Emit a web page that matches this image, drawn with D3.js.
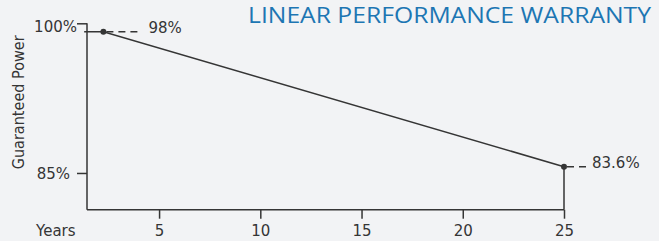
<!DOCTYPE html>
<html>
<head>
<meta charset="utf-8">
<script src="https://cdn.jsdelivr.net/npm/d3@7"></script>
<style>
  html, body { margin: 0; padding: 0; background: #f2f3f5; }
  svg { display: block; font-family: "DejaVu Sans", sans-serif; }
</style>
</head>
<body>
<svg id="chart" width="659" height="241"></svg>
<script>
// ---- data ----
const titleText = "LINEAR PERFORMANCE WARRANTY";
const yAxisTitle = "Guaranteed Power";
const xAxisTitle = "Years";
const years = [1.3, 2.25, 25];            // warranty line vertices
const power = [99.16, 99.16, 85.63];      // plotted level (%)
const markerIdx = [1, 2];                 // points with markers
const markerLabels = ["98%", "83.6%"];
const xTicks = [5, 10, 15, 20, 25];
const yTicks = [100, 85];
const yTickLabels = ["100%", "85%"];
const xDomain = [1.44, 25];
const yDomain = [81.32, 100];

// ---- layout ----
const ink = "#353535";
const smallFont = "\"DejaVu Sans\", sans-serif";
const svg = d3.select("#chart");

const x = d3.scaleLinear().domain(xDomain).range([87, 564]);
const y = d3.scaleLinear().domain(yDomain).range([209.7, 23.3]);

// title
svg.append("text")
  .attr("x", 651).attr("y", 23.3)
  .attr("text-anchor", "end")
  .attr("fill", "#1d76b3")
  .attr("font-family", "\"Open Sans\", sans-serif")
  .attr("font-size", 22)
  .attr("textLength", 403).attr("lengthAdjust", "spacingAndGlyphs")
  .text(titleText);

// x axis
const xAxis = d3.axisBottom(x).tickValues(xTicks).tickSize(9).tickPadding(6)
  .tickFormat(d3.format("d"));
const gx = svg.append("g").attr("transform", `translate(0,${y(yDomain[0])})`).call(xAxis);
gx.select(".domain").attr("d", `M${x(xDomain[0])},0H${x(xDomain[1])}`);

// y axis
const yAxis = d3.axisLeft(y).tickValues(yTicks).tickSize(10).tickPadding(0)
  .tickFormat((d, i) => yTickLabels[i]);
const gy = svg.append("g").attr("transform", `translate(${x(xDomain[0])},0)`).call(yAxis);
gy.select(".domain").attr("d", `M0,${y(yDomain[1])}V${y(yDomain[0])}`);

[gx, gy].forEach(g => {
  g.selectAll(".domain, .tick line").attr("stroke", ink).attr("stroke-width", 1.5);
  g.selectAll("text").attr("fill", ink).attr("font-size", 15)
    .attr("font-family", smallFont);
});
gx.selectAll(".tick text").attr("dy", null).attr("y", 0)
  .attr("transform", "translate(0,26)");
gy.selectAll(".tick text")
  .attr("x", (d, i) => i === 0 ? -10 : -17)
  .attr("dy", (d, i) => i === 0 ? "8.4" : "5.3");

// axis titles
svg.append("text")
  .attr("x", 36).attr("y", 235.7)
  .attr("fill", ink).attr("font-size", 15)
  .text(xAxisTitle);

svg.append("text")
  .attr("transform", `translate(24,169.3) rotate(-90)`)
  .attr("fill", ink).attr("font-size", 15)
  .attr("textLength", 134).attr("lengthAdjust", "spacingAndGlyphs")
  .text(yAxisTitle);

// drop line at last point
const last = years.length - 1;
svg.append("line")
  .attr("x1", x(years[last])).attr("x2", x(years[last]))
  .attr("y1", y(power[last])).attr("y2", y(yDomain[0]))
  .attr("stroke", ink).attr("stroke-width", 1.5);

// warranty line
const pts = years.map((d, i) => [d, power[i]]);
svg.append("path")
  .datum(pts)
  .attr("fill", "none").attr("stroke", ink).attr("stroke-width", 1.5)
  .attr("d", d3.line().x(d => x(d[0])).y(d => y(d[1])));

// markers, dashed leaders, labels
const dashLen = [39, 22];
markerIdx.forEach((idx, k) => {
  const cx = x(years[idx]), cy = y(power[idx]);
  svg.append("line")
    .attr("x1", cx + 3).attr("x2", cx + dashLen[k])
    .attr("y1", cy).attr("y2", cy)
    .attr("stroke", ink).attr("stroke-width", 1.5)
    .attr("stroke-dasharray", "7,5");
  svg.append("circle")
    .attr("cx", cx).attr("cy", cy).attr("r", 3)
    .attr("fill", ink);
  svg.append("text")
    .attr("x", cx + dashLen[k] + 6).attr("y", cy + 1)
    .attr("fill", ink).attr("font-size", 15)
    .text(markerLabels[k]);
});
</script>
</body>
</html>
